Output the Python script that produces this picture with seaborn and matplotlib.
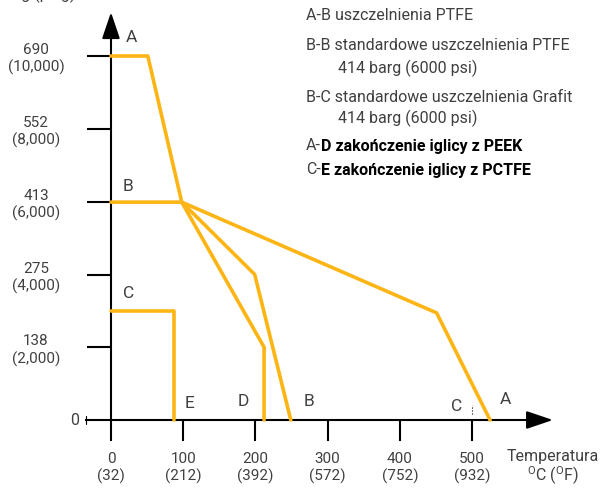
import matplotlib
matplotlib.use("Agg")
import numpy as np
import pandas as pd
import matplotlib.pyplot as plt
import seaborn as sns

# data: temperature (degC) vs pressure (barg)
temp_a = [0, 51, 98, 451, 525]
pres_a = [690, 690, 413, 203, 0]
temp_b = [0, 98, 199, 249]
pres_b = [413, 413, 276, 0]
temp_d = [98, 212, 212]
pres_d = [413, 138, 0]
temp_c = [0, 87, 87]
pres_c = [207, 207, 0]

x_ticks = [0, 100, 200, 300, 400, 500]
x_labels = ["0\n(32)", "100\n(212)", "200\n(392)", "300\n(572)", "400\n(752)", "500\n(932)"]
y_ticks = [138, 275, 413, 552, 690]
y_labels = ["138\n(2,000)", "275\n(4,000)", "413\n(6,000)", "552\n(8,000)", "690\n(10,000)"]

point_names = ["A", "B", "C", "E", "D", "B", "C", "A"]
point_x = [29, 24, 24, 109, 183, 274, 479, 547]
point_y = [725, 443, 240, 32, 36, 36, 25, 38]

legend_lines = [
    ("A-B uszczelnienia PTFE", ""),
    ("B-B standardowe uszczelnienia PTFE", ""),
    ("        414 barg (6000 psi)", ""),
    ("B-C standardowe uszczelnienia Grafit", ""),
    ("        414 barg (6000 psi)", ""),
    ("A-", "D zakończenie iglicy z PEEK"),
    ("C-", "E zakończenie iglicy z PCTFE"),
]
legend_y = [16, 46, 68, 97, 118, 146, 170]

sns.set_theme(style="white")
plt.rcParams["font.family"] = ["Roboto", "DejaVu Sans"]
plt.rcParams["font.size"] = 11.5
plt.rcParams["mathtext.fontset"] = "custom"
plt.rcParams["mathtext.rm"] = "Roboto"

gray = "#404040"
orange = "#FDB515"
wt = "normal"

df = pd.concat([
    pd.DataFrame({"temp": temp_a, "pres": pres_a, "curve": "A"}),
    pd.DataFrame({"temp": temp_b, "pres": pres_b, "curve": "B"}),
    pd.DataFrame({"temp": temp_d, "pres": pres_d, "curve": "D"}),
    pd.DataFrame({"temp": temp_c, "pres": pres_c, "curve": "C"}),
], ignore_index=True)

fig = plt.figure(figsize=(6.02, 4.88), dpi=100)
ax = fig.add_axes([0, 0, 1, 1])
ax.set_facecolor("white")

sns.lineplot(data=df, x="temp", y="pres", units="curve", estimator=None, sort=False,
             color=orange, linewidth=2.6, ax=ax, zorder=3)

# pixel -> data: x = (px - 111) / 0.722, y = (420 - py) / 0.5275
ax.set_xlim(-153.7, 680)
ax.set_ylim(-128.9, 796.2)
ax.set_xlabel("")
ax.set_ylabel("")

# axes through the origin
for s in ["top", "right"]:
    ax.spines[s].set_visible(False)
ax.spines["left"].set_position(("data", 0))
ax.spines["bottom"].set_position(("data", 0))
ax.spines["left"].set_bounds(0, 740)
ax.spines["bottom"].set_bounds(-35, 600)
for s in ["left", "bottom"]:
    ax.spines[s].set_color("black")
    ax.spines[s].set_linewidth(1.5)

arrow = dict(arrowstyle="-|>,head_length=0.65,head_width=0.22",
             mutation_scale=25, color="black", lw=1.5, shrinkA=0, shrinkB=0)
ax.annotate("", xy=(0, 773), xytext=(0, 725), arrowprops=arrow)
ax.annotate("", xy=(612, 0), xytext=(590, 0), arrowprops=arrow)

ax.set_xticks(x_ticks)
ax.set_xticklabels(x_labels, color=gray, linespacing=1.25)
ax.set_yticks(y_ticks)
ax.set_yticklabels(y_labels, color=gray, ha="center", linespacing=1.25)
ax.tick_params(axis="x", direction="out", length=15, width=1.5, pad=8, color="black", bottom=True)
ax.tick_params(axis="y", direction="out", length=17, width=1.5, pad=37, color="black", left=True)
ax.grid(False)

# zero label on y axis with its little mark
ax.text(-50, 0, "0", color=gray, ha="center", va="center")
ax.plot([-35, -35], [-8, 8], color="black", lw=0.8)

# dotted marker near C
ax.plot([500, 500], [12, 28], color="black", lw=0.8, ls=":")

for name, px, py in zip(point_names, point_x, point_y):
    ax.text(px, py, name, color=gray, ha="center", va="center", fontsize=12.5)

# x axis title
ax.text(612, -70, "Temperatura", color=gray, ha="center", va="center")
ax.text(612, -106, r"$^{\mathrm{O}}$C ($^{\mathrm{O}}$F)", color=gray, ha="center", va="center")

# y axis unit, cut at the top edge
fig.text(37 / 602, 1 + 1 / 488, "barg (psig)", color=gray, ha="center", va="baseline")

# legend text
for (plain, bold), ypx in zip(legend_lines, legend_y):
    t = fig.text(306 / 602, 1 - ypx / 488, plain, color=gray, ha="left", va="center")
    if bold:
        ax.annotate(bold, xy=(1, 0), xycoords=t, va="bottom", ha="left",
                    color="black", fontweight="bold")

fig.savefig("out.png", dpi=100, facecolor="white")
